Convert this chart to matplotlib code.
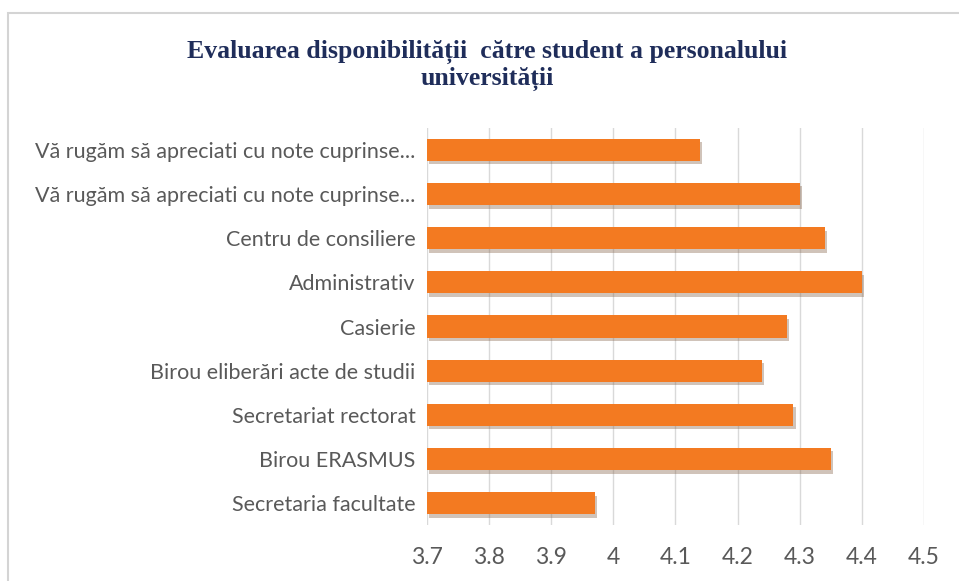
import matplotlib
matplotlib.use('Agg')
import matplotlib.pyplot as plt
import matplotlib.patheffects as pe
from matplotlib.patches import Rectangle

# categories, top to bottom as shown in the chart
categories = ['Vă rugăm să apreciati cu note cuprinse...',
              'Vă rugăm să apreciati cu note cuprinse...',
              'Centru de consiliere',
              'Administrativ',
              'Casierie',
              'Birou eliberări acte de studii',
              'Secretariat rectorat',
              'Birou ERASMUS',
              'Secretaria facultate']
scores = [4.14, 4.30, 4.34, 4.40, 4.28, 4.24, 4.29, 4.35, 3.97]
xticks = [3.7, 3.8, 3.9, 4.0, 4.1, 4.2, 4.3, 4.4, 4.5]
xtick_labels = ['3.7', '3.8', '3.9', '4', '4.1', '4.2', '4.3', '4.4', '4.5']
title = 'Evaluarea disponibilității  către student a personalului\nuniversității'

fig = plt.figure(figsize=(9.59, 5.81), dpi=100)
ax = fig.add_axes([0.445, 0.096, 0.5185, 0.684])

# chart frame
fig.patches.append(Rectangle((0.008, -0.02), 1.2, 0.998, transform=fig.transFigure,
                             fill=False, edgecolor='#d4d4d4', linewidth=1.5))

pos = list(range(len(categories)))
bars = ax.barh(pos, [s - 3.7 for s in scores], left=3.7, height=0.5,
               color='#f37a21', zorder=3)
for b in bars:
    b.set_path_effects([pe.SimplePatchShadow(offset=(1.5, -2.5), shadow_rgbFace='#8a6a50', alpha=0.4),
                        pe.Normal()])

ax.set_xlim(3.7, 4.5)
ax.set_ylim(len(categories) - 0.5, -0.5)
ax.set_xticks(xticks)
ax.set_xticklabels(xtick_labels)
ax.set_yticks(pos)
ax.set_yticklabels(categories)
ax.tick_params(axis='x', length=0, colors='#595959', labelsize=16.5, pad=16)
ax.tick_params(axis='y', length=0, colors='#595959', labelsize=15.5, pad=8)
for lbl in ax.get_xticklabels() + ax.get_yticklabels():
    lbl.set_family('Lato')
ax.xaxis.grid(True, color='#d9d9d9', linewidth=1, zorder=0)
for s in ax.spines.values():
    s.set_visible(False)

fig.text(0.508, 0.888, title, ha='center', va='center', fontsize=18.5,
         fontweight='bold', family='Liberation Serif', color='#1f2d5a',
         linespacing=1.15)

fig.savefig('out.png', dpi=100)
plt.close()
